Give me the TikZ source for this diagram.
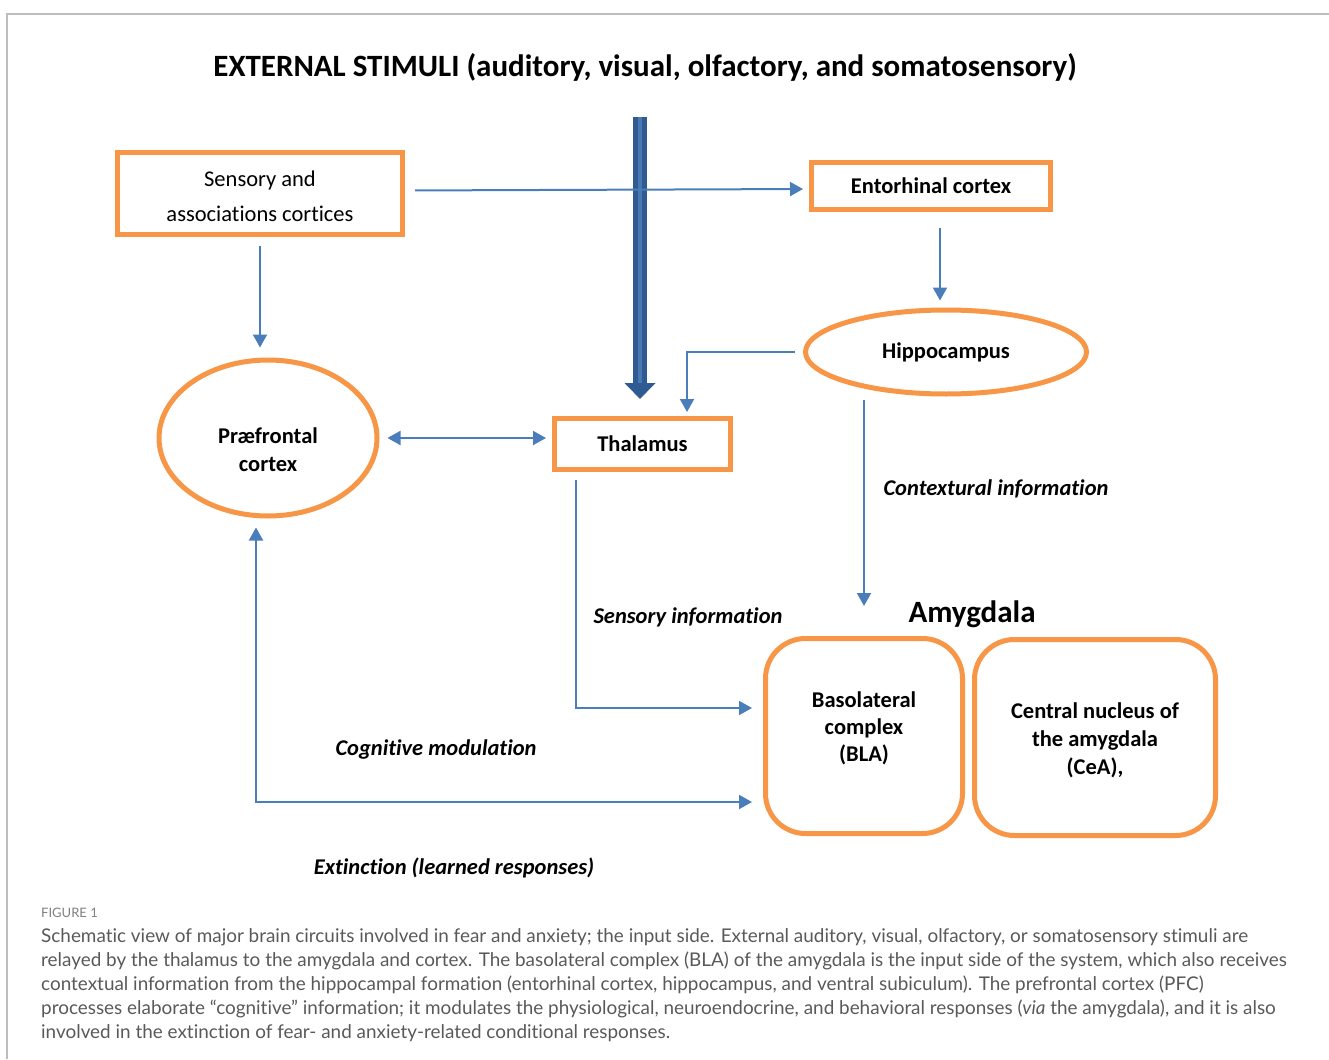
\documentclass[tikz,border=0pt]{standalone}
\usepackage{fontspec}
\setmainfont[Ligatures=NoCommon]{Carlito}
\newfontfamily\capfont[Ligatures=NoCommon]{Lato}
\usetikzlibrary{shapes.geometric,arrows.meta}
\definecolor{boxorange}{HTML}{F79646}
\definecolor{arrblue}{HTML}{4A7EBB}
\definecolor{thickblue}{HTML}{2F5A92}
\definecolor{thicklight}{HTML}{4A78B4}
\definecolor{framegray}{HTML}{BDBDBD}
\definecolor{capgray}{HTML}{595959}
\begin{document}
\begin{tikzpicture}[x=1pt,y=-1pt,
  orbox/.style={draw=boxorange, line width=5pt, rectangle, align=center},
  orell/.style={draw=boxorange, line width=5pt, ellipse, align=center, inner sep=0pt},
  arr/.style={draw=arrblue, line width=2pt, -{Triangle[width=14pt,length=13pt]}},
  lbl/.style={font=\fontsize{22.5}{27}\selectfont\bfseries\itshape}]
\useasboundingbox (0,0) rectangle (1329,1059);
\draw[framegray, line width=2pt] (1329,14) -- (7,14) -- (7,1059);
\node (title) at (645,67) {\fontsize{31}{37}\selectfont\bfseries EXTERNAL STIMULI (auditory, visual, olfactory, and somatosensory)};
% boxes
\node[orbox, minimum width=285pt, minimum height=82pt, font=\fontsize{22.5}{35}\selectfont] (sens) at (260,193.5) {\rule{0pt}{22pt}Sensory and\\associations cortices};
\node[orbox, minimum width=239pt, minimum height=47pt, font=\fontsize{22.5}{27}\selectfont\bfseries] (ento) at (931,186) {Entorhinal cortex};
\node[orbox, minimum width=176pt, minimum height=51pt, font=\fontsize{22.5}{27}\selectfont\bfseries] (thal) at (642.5,444) {Thalamus};
\node[orell, minimum width=281pt, minimum height=84pt, font=\fontsize{22.5}{27}\selectfont\bfseries] (hip) at (946,352) {Hippocampus};
\node[orell, minimum width=218pt, minimum height=156pt, font=\fontsize{22.5}{28}\selectfont\bfseries] (pfc) at (268,438) {\rule{0pt}{39pt}Præfrontal\\cortex};
\node[orbox, rounded corners=40pt, minimum width=197pt, minimum height=195pt, font=\fontsize{22.5}{27}\selectfont\bfseries] (bla) at (864,736) {Basolateral\\complex\\(BLA)\rule[-19pt]{0pt}{1pt}};
\node[orbox, rounded corners=40pt, minimum width=241pt, minimum height=196pt, font=\fontsize{22.5}{28}\selectfont\bfseries] (cea) at (1095,737.5) {\rule{0pt}{22pt}Central nucleus of\\the amygdala\\(CeA),};
\node (amyg) at (972,614) {\fontsize{31}{37}\selectfont\bfseries Amygdala};
% labels
\node[lbl] (ctx) at (996,489) {Contextural information};
\node[lbl] (sinf) at (688,617) {Sensory information};
\node[lbl] (cogm) at (436,749) {Cognitive modulation};
\node[lbl] (ext) at (454,868) {Extinction (learned responses)};
% thick stimulus arrow
\coordinate (stim) at (640,117);
\draw[thickblue, line width=14pt, -{Triangle[width=30pt,length=16pt]}, shorten >=17pt] (stim) -- (stim |- thal.north);
\draw[thicklight, line width=4pt] (stim) -- ++(0,266);
% connectors
\draw[arr, shorten <=10pt, shorten >=6pt] ([yshift=3pt]sens.east) -- ([yshift=-3pt]ento.west);
\draw[arr, shorten <=9pt, shorten >=10pt] (sens.south) -- (sens.south |- pfc.north);
\draw[arr, shorten <=16pt, shorten >=7pt] ([xshift=9pt]ento.south) -- ([xshift=-6pt]hip.north);
\draw[arr, shorten <=8pt, shorten >=4pt] (hip.west) -| ([xshift=44.5pt]thal.north);
\draw[arr, {Triangle[width=14pt,length=13pt]}-{Triangle[width=14pt,length=13pt]}, shorten <=8pt, shorten >=6pt] (pfc.east) -- (pfc.east -| thal.west);
\draw[arr, shorten <=3pt, shorten >=30pt] (hip.south -| bla.north) -- (bla.north);
\draw[arr, shorten <=8pt, shorten >=11pt] ([xshift=-66.5pt]thal.south) |- ([yshift=28pt]bla.west);
\draw[arr, {Triangle[width=14pt,length=13pt]}-{Triangle[width=14pt,length=13pt]}, shorten <=9pt, shorten >=11pt] ([xshift=-12pt]pfc.south) |- ([yshift=-66pt]bla.west);
% caption
\node[anchor=base west, inner sep=0pt, text=gray, font=\capfont\fontsize{13}{16}\selectfont] (fig) at (41,917) {FIGURE 1};
\node[anchor=north west, inner sep=0pt, align=left, text=capgray, font=\capfont\fontsize{18.9}{24}\selectfont] (cap) at (41,928) {Schematic view of major brain circuits involved in fear and anxiety; the input side. External auditory, visual, olfactory, or somatosensory stimuli are\\
relayed by the thalamus to the amygdala and cortex. The basolateral complex (BLA) of the amygdala is the input side of the system, which also receives\\
contextual information from the hippocampal formation (entorhinal cortex, hippocampus, and ventral subiculum). The prefrontal cortex (PFC)\\
processes elaborate “cognitive” information; it modulates the physiological, neuroendocrine, and behavioral responses (\textit{via} the amygdala), and it is also\\
involved in the extinction of fear- and anxiety-related conditional responses.};
\end{tikzpicture}
\end{document}
